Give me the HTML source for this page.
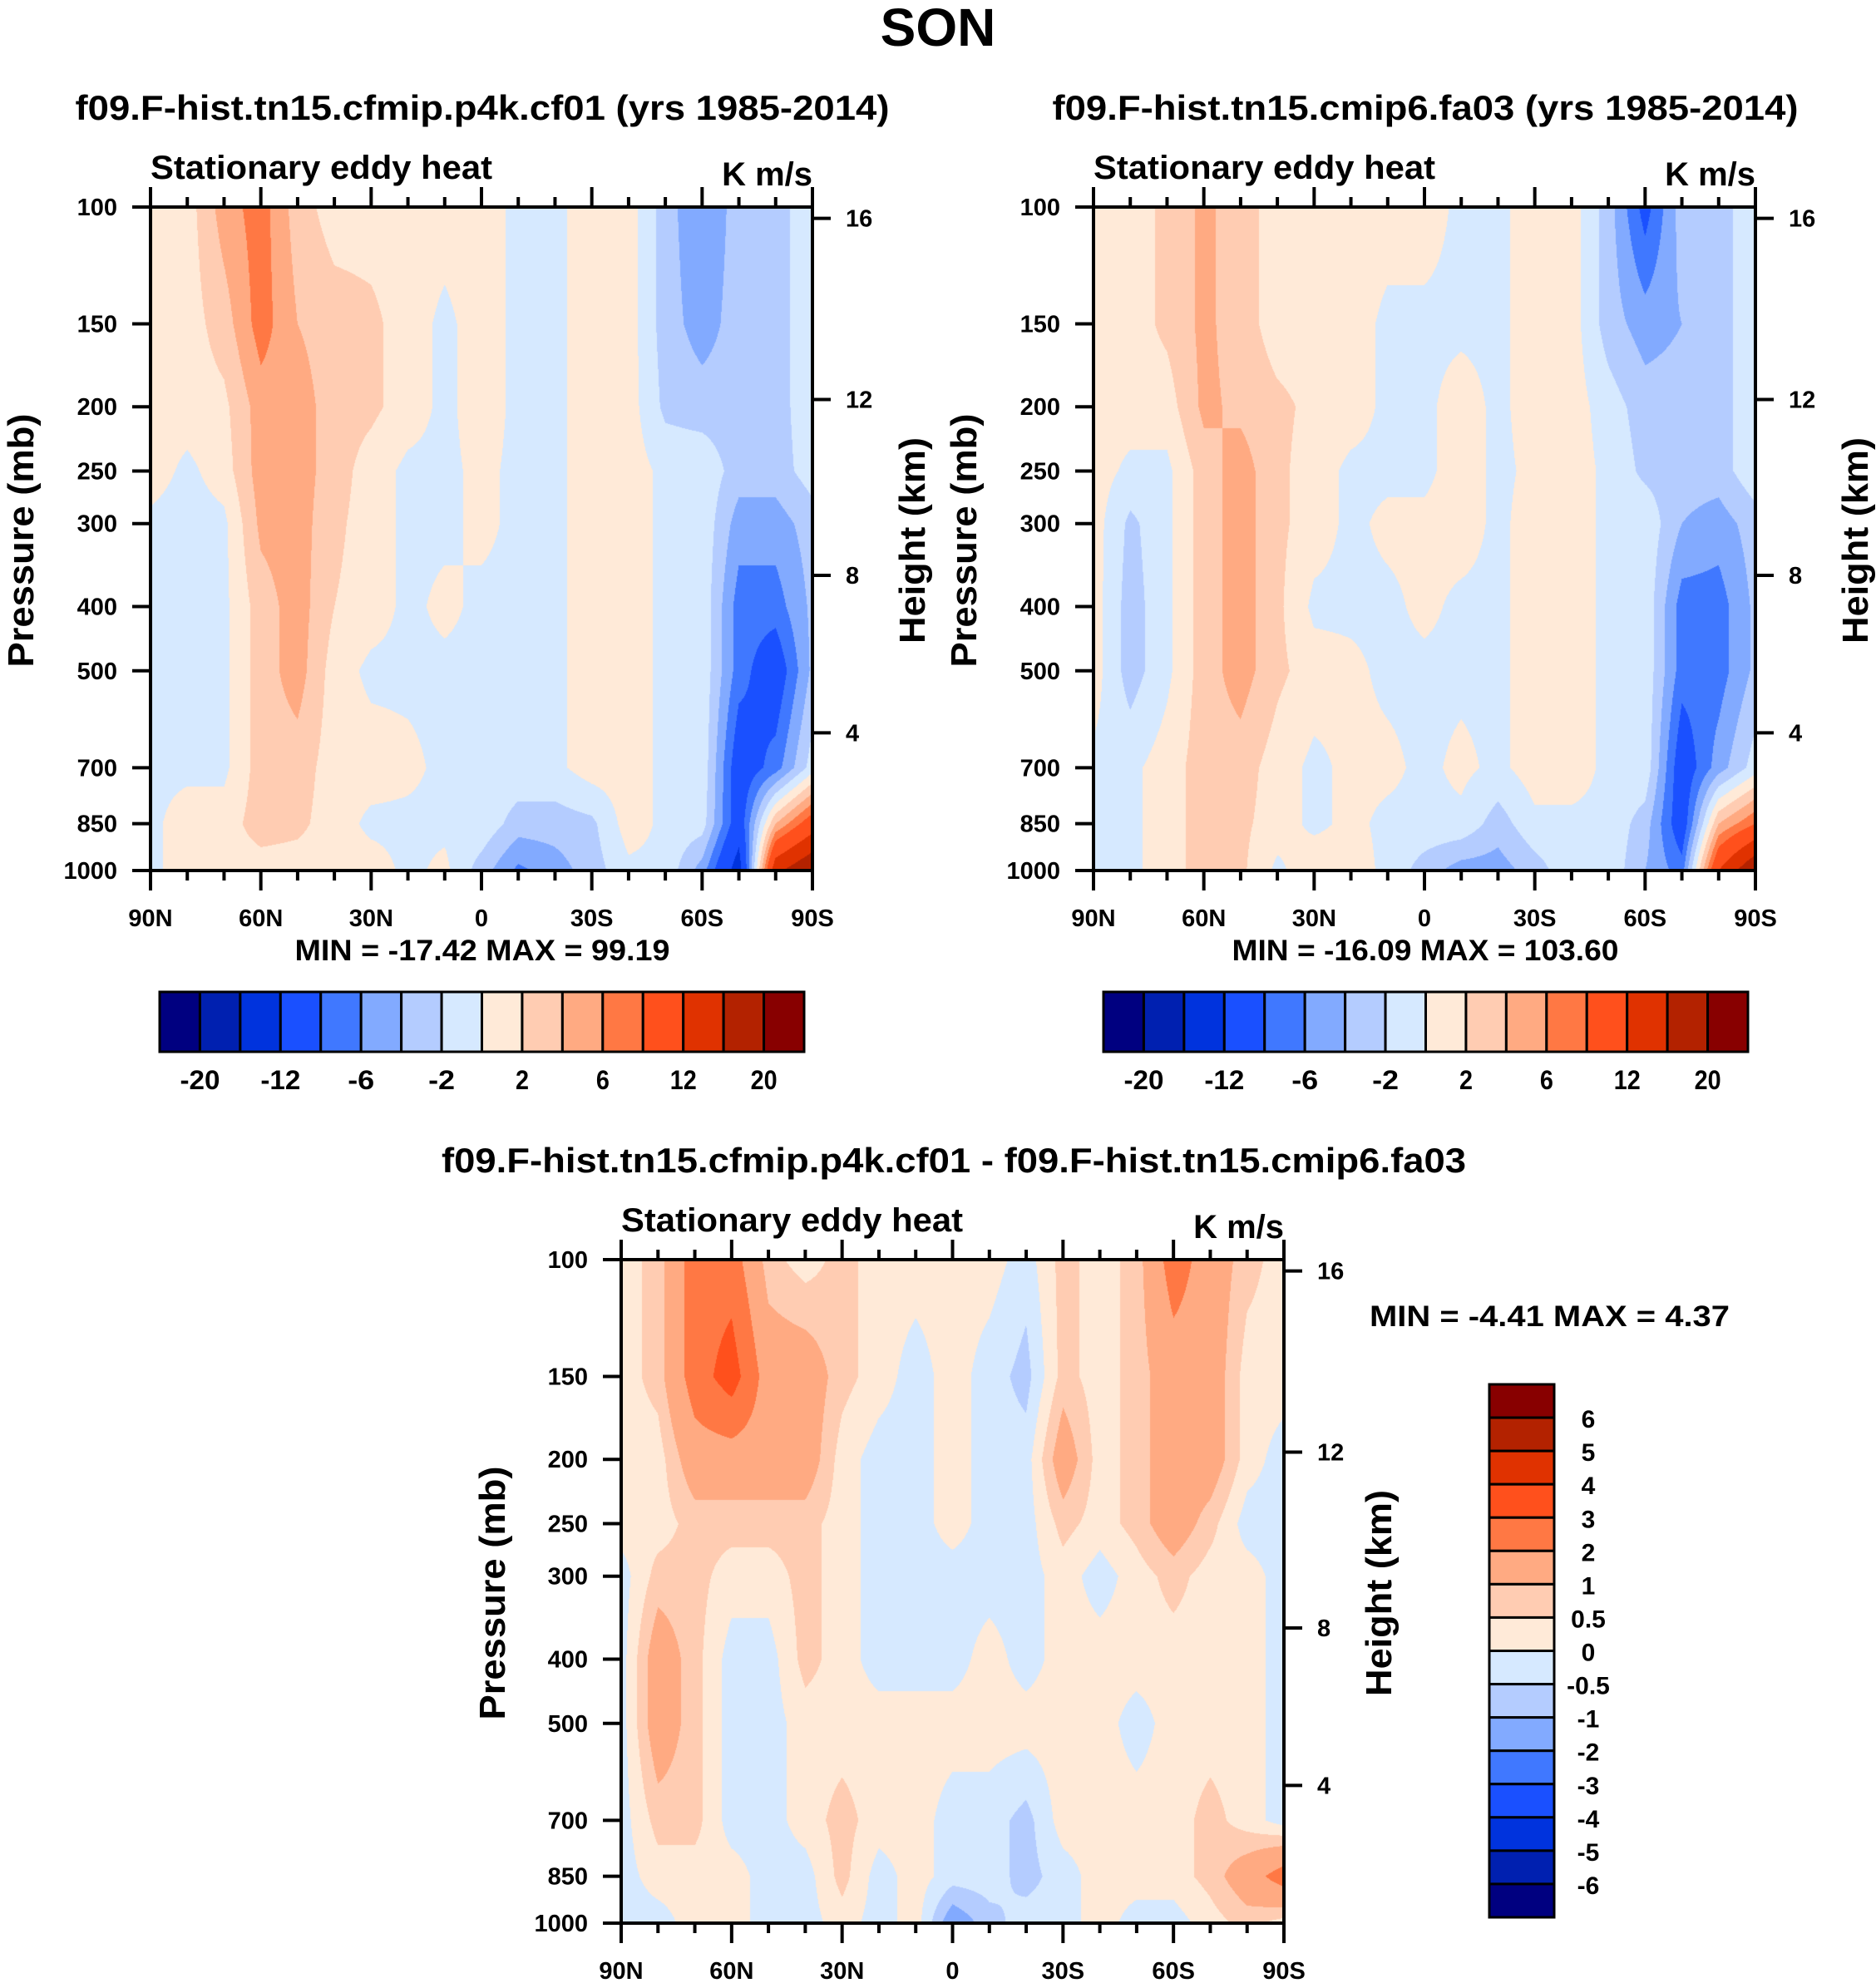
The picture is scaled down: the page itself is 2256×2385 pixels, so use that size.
<!DOCTYPE html>
<html><head><meta charset="utf-8">
<style>
html,body{margin:0;padding:0;background:#fff;}
#root{position:relative;width:2256px;height:2385px;overflow:hidden;background:#fff;}
canvas{position:absolute;}
svg{position:absolute;left:0;top:0;}
text{font-family:"Liberation Sans",sans-serif;font-weight:bold;fill:#000;}
</style></head>
<body>
<div id="root">
<canvas id="c1" width="796" height="798" style="left:181px;top:249px"></canvas>
<canvas id="c2" width="796" height="798" style="left:1315px;top:249px"></canvas>
<canvas id="c3" width="797" height="798" style="left:747px;top:1515px"></canvas>
<svg id="ov" width="2256" height="2385">
<text x="1128" y="55" text-anchor="middle" font-size="64">SON</text>
</svg>
</div>
<script>
// ---- data ----
const lats = [90,80,70,60,50,40,30,20,10,0,-10,-20,-30,-40,-50,-60,-70,-80,-90];
const plevs = [100,150,200,250,300,400,500,700,850,1000];
const xTickLabels = ['90N','60N','30N','0','30S','60S','90S'];
const pTickLabels = [100,150,200,250,300,400,500,700,850,1000];
const zTickLabels = [16,12,8,4];
const zTickPressure = [104,195,359,620];
const levelsAbs = [-20,-16,-12,-8,-6,-4,-2,0,2,4,6,8,12,16,20];
const barLabelsAbs = ['-20','-12','-6','-2','2','6','12','20'];
const levelsDiff = [-6,-5,-4,-3,-2,-1,-0.5,0,0.5,1,2,3,4,5,6];
const barLabelsDiff = ['6','5','4','3','2','1','0.5','0','-0.5','-1','-2','-3','-4','-5','-6'];
const colors = ['#000080','#0020B0','#0033DD','#1A50FF','#4078FF','#82AAFF','#B4CCFF','#D6E9FF','#FFEAD8','#FFCCB2','#FFAA82','#FF7844','#FF501C','#E03200','#B32200','#880000'];
// rows = latitude (90N..90S), cols = pressure levels (100..1000)
const fieldCf01 = [
 [1,1,1,1,-0.5,-0.5,-0.5,-0.5,-0.5,-0.5],
 [1,1,1,-0.5,-1,-1,-1,-0.5,1,1],
 [5,3,1.5,1,-0.5,-0.5,-0.5,-0.5,1,1],
 [7,7,5,5,4.5,3,3,3,3,1],
 [3,4,5,5,5,5,5,3,2.5,1],
 [1,3,3,3,2.5,2,1,1,1,1],
 [1,2.5,2.5,1,1,1,-0.5,1,-0.5,1],
 [1,1,1,-0.5,-0.5,-0.5,-0.5,0.5,-0.5,-0.5],
 [1,-0.5,-0.5,-0.5,-0.5,0.5,-0.5,-0.5,-0.5,0.5],
 [1,1,1,0.5,0.5,-0.5,-0.5,-0.5,-0.5,-3],
 [-0.5,-0.5,-0.5,-0.5,-0.5,-0.5,-0.5,-0.5,-3,-6.5],
 [-0.5,-0.5,-0.5,-0.5,-0.5,-0.5,-0.5,-0.5,-3,-5],
 [1,1,1,1,1,1,1,1,-2.5,-3],
 [1,1,1,1,1,1,1,1,1,-0.5],
 [-3,-3,-2.5,-0.5,-0.5,-0.5,-0.5,-0.5,-0.5,-0.5],
 [-6,-5,-3,-0.5,-0.5,-0.5,-0.5,-0.5,-1,-5],
 [-3,-3,-3,-3,-5,-7,-7,-10,-10,-14],
 [-3,-3,-3,-3,-5,-7,-10,-7,4,15],
 [-0.5,-0.5,-0.5,-1,-3,-3.5,-3.5,-1,10,20]
];
const fieldFa03 = [
 [1,1,1,1,1,1,1,-0.5,-0.5,-0.5],
 [1,1,1,-0.5,-2.5,-3,-3,-0.5,-0.5,-0.5],
 [2.5,2.5,1,-0.5,-0.5,-0.5,-0.5,1,1,1],
 [4.5,4.5,4.5,3,3,3,3,3,3,3],
 [3,3,3.5,5,5,5,5,3,2.5,2.5],
 [1,1,2.5,2.5,2.5,2.5,2.5,1,1,-0.5],
 [1,1,1.5,1,1,-0.5,1,-0.5,-0.5,1.5],
 [1,1,1,-0.5,-0.5,-0.5,0.5,0.5,0.5,1],
 [1,-0.5,-0.5,-0.5,0.5,-0.5,-0.5,0.5,-0.5,-0.5],
 [1,-0.5,-0.5,-0.5,0.5,0.5,-0.5,-0.5,-0.5,-3],
 [-0.5,-0.5,1,1,1,-0.5,-0.5,0.5,-0.5,-5],
 [-0.5,-0.5,-0.5,-0.5,-0.5,-0.5,-0.5,-0.5,-3,-5],
 [1,1,1,0.5,1,1,1,1,-0.5,-3],
 [1,1,1,1,1,1,1,1,-0.5,-0.5],
 [-3,-3,-1,-0.5,-0.5,-0.5,-0.5,-0.5,-0.5,-0.5],
 [-9,-5,-3,-2.5,-0.5,-0.5,-0.5,-0.5,-3,-4],
 [-3,-4,-3,-3,-4,-7,-7,-10,-10,-7],
 [-3,-3,-3,-3,-5,-7,-7,-5,4,12],
 [-0.5,-0.5,-0.5,-0.5,-3,-3.5,-3.5,-1,8,20]
];
const fieldDiff = [
 [0.25,0.25,0.25,0.25,-0.25,-0.25,-0.25,-0.25,-0.25,-0.25],
 [0.7,0.7,0.25,0.25,0.7,1.5,1.5,0.7,0.25,-0.25],
 [2.5,2.5,1.5,0.7,0.7,0.7,0.7,0.7,0.25,0.25],
 [2.5,3.5,1.5,0.7,0.25,-0.25,-0.25,-0.25,0.25,0.25],
 [0.7,1.5,1.5,0.7,0.25,-0.25,-0.25,-0.25,-0.25,-0.25],
 [0.25,1.5,1.5,0.7,0.7,0.7,0.25,0.25,-0.25,-0.25],
 [0.7,0.7,0.25,0.25,0.25,0.25,0.25,0.7,0.7,0.25],
 [0.25,0.25,-0.25,-0.25,-0.25,-0.25,0.25,0.25,-0.25,-0.25],
 [0.25,-0.25,-0.25,-0.25,-0.25,-0.25,0.25,0.25,0.25,0.25],
 [0.25,0.25,0.25,0.25,-0.25,-0.25,0.25,-0.25,-0.25,-1.5],
 [0.25,-0.25,-0.25,-0.25,-0.25,0.25,0.25,-0.25,-0.25,-0.7],
 [-0.25,-0.7,-0.25,-0.25,-0.25,-0.25,0.25,-0.7,-0.7,-0.25],
 [0.7,0.7,1.5,0.7,0.25,0.25,0.25,0.25,-0.25,-0.25],
 [0.25,0.25,0.25,0.25,-0.25,0.25,0.25,0.25,0.25,0.25],
 [0.7,0.7,0.7,0.7,0.25,0.25,-0.25,0.25,0.25,-0.25],
 [2.5,1.5,1.5,1.5,0.7,0.25,0.25,0.25,0.25,-0.25],
 [1.5,1.5,1.5,0.7,0.25,0.25,0.25,0.7,0.7,0.25],
 [0.7,0.25,0.25,-0.25,0.25,0.25,0.25,0.25,1.5,0.7],
 [0.25,0.25,-0.25,-0.25,-0.25,-0.25,-0.25,-0.25,2.5,0.25]
];

// ---- helpers ----
const NS='http://www.w3.org/2000/svg';
const ov=document.getElementById('ov');
function mk(tag,attrs,txt){const e=document.createElementNS(NS,tag);for(const k in attrs)e.setAttribute(k,attrs[k]);if(txt!==undefined)e.textContent=txt;ov.appendChild(e);return e;}
function hexRGB(h){return [parseInt(h.substr(1,2),16),parseInt(h.substr(3,2),16),parseInt(h.substr(5,2),16)];}
const lnP0=Math.log(100), lnP1=Math.log(1000);
function yOf(p,top,H){return top+(Math.log(p)-lnP0)/(lnP1-lnP0)*H;}
function xOf(lat,left,W){return left+(90-lat)/180*W;}

function drawField(id,field,levels){
  const cv=document.getElementById(id),ctx=cv.getContext('2d');
  const W=cv.width,H=cv.height,img=ctx.createImageData(W,H);
  const lnL=plevs.map(p=>Math.log(p));
  const rgb=colors.map(hexRGB);
  for(let py=0;py<H;py++){
    const lp=lnP0+(py+0.5)/H*(lnP1-lnP0);
    let j=0;while(j<plevs.length-2&&lp>lnL[j+1])j++;
    const ty=Math.min(1,Math.max(0,(lp-lnL[j])/(lnL[j+1]-lnL[j])));
    for(let px=0;px<W;px++){
      const lat=90-(px+0.5)/W*180;
      let i=0;while(i<lats.length-2&&lat<lats[i+1])i++;
      const tx=Math.min(1,Math.max(0,(lats[i]-lat)/(lats[i]-lats[i+1])));
      const v=(field[i][j]*(1-tx)+field[i+1][j]*tx)*(1-ty)+(field[i][j+1]*(1-tx)+field[i+1][j+1]*tx)*ty;
      let k=0;while(k<levels.length&&v>=levels[k])k++;
      const c=rgb[k],o=(py*W+px)*4;
      img.data[o]=c[0];img.data[o+1]=c[1];img.data[o+2]=c[2];img.data[o+3]=255;
    }
  }
  ctx.putImageData(img,0,0);
}

function drawAxes(left,top,W,H,opt){
  const right=left+W,bottom=top+H;
  const fr=mk('rect',{x:left,y:top,width:W,height:H,fill:'none',stroke:'#000','stroke-width':4});
  
  
  for(let lat=90;lat>=-90;lat-=10){
    const x=xOf(lat,left,W),major=(lat%30===0);
    const tb=mk('line',{x1:x,x2:x,y1:bottom,y2:bottom+(major?24:12),stroke:'#000','stroke-width':4});
    
    
    const tt=mk('line',{x1:x,x2:x,y1:top,y2:top-(major?24:12),stroke:'#000','stroke-width':4});
    
    
  }
  xTickLabels.forEach((s,i)=>{
    const t=mk('text',{x:xOf(90-30*i,left,W),y:bottom+67,'text-anchor':'middle','font-size':29},s);
    
    
  });
  pTickLabels.forEach(p=>{
    const y=yOf(p,top,H);
    const l=mk('line',{x1:left-22,x2:left,y1:y,y2:y,stroke:'#000','stroke-width':4});
    
    
    const t=mk('text',{x:left-40,y:y+10,'text-anchor':'end','font-size':29},String(p));
    
    
  });
  zTickLabels.forEach((z,i)=>{
    const y=yOf(zTickPressure[i],top,H);
    const l=mk('line',{x1:right,x2:right+22,y1:y,y2:y,stroke:'#000','stroke-width':4});
    
    
    const t=mk('text',{x:right+40,y:y+10,'font-size':29},String(z));
    
    
  });
  const cy=top+H/2+2;
  const pt=mk('text',{x:0,y:0,'text-anchor':'middle','font-size':44,textLength:305,lengthAdjust:'spacingAndGlyphs',transform:`translate(${left-opt.pOff},${cy}) rotate(-90)`},'Pressure (mb)');
  
  
  const ht=mk('text',{x:0,y:0,'text-anchor':'middle','font-size':44,textLength:248,lengthAdjust:'spacingAndGlyphs',transform:`translate(${right+opt.hOff},${cy}) rotate(-90)`},'Height (km)');
  
  
  const st=mk('text',{x:left,y:top-34,'font-size':40,textLength:411,lengthAdjust:'spacingAndGlyphs'},'Stationary eddy heat');
  
  
  const un=mk('text',{x:right,y:top-26,'text-anchor':'end','font-size':40},'K m/s');
  
  
}

function hBar(left,top,W,H,labels){
  const n=colors.length,bw=W/n;
  colors.forEach((c,i)=>{
    const r=mk('rect',{x:left+i*bw,y:top,width:bw,height:H,fill:c,stroke:'#000','stroke-width':3});
    
    
  });
  labels.forEach((s,i)=>{
    const t=mk('text',{x:left+(2*i+1)*bw,y:top+H+45,'text-anchor':'middle','font-size':32,textLength:s.length*16,lengthAdjust:'spacingAndGlyphs'},s);
    
    
  });
}

// ---- draw ----
drawField('c1',fieldCf01,levelsAbs);
drawField('c2',fieldFa03,levelsAbs);
drawField('c3',fieldDiff,levelsDiff);

drawAxes(181,249,796,798,{pOff:141,hOff:135});
drawAxes(1315,249,796,798,{pOff:141,hOff:135});
drawAxes(747,1515,797,798,{pOff:140,hOff:129});

let t;
t=mk('text',{x:580,y:144,'text-anchor':'middle','font-size':42,textLength:979,lengthAdjust:'spacingAndGlyphs'},'f09.F-hist.tn15.cfmip.p4k.cf01 (yrs 1985-2014)');


t=mk('text',{x:1714,y:144,'text-anchor':'middle','font-size':42,textLength:897,lengthAdjust:'spacingAndGlyphs'},'f09.F-hist.tn15.cmip6.fa03 (yrs 1985-2014)');


t=mk('text',{x:1147,y:1410,'text-anchor':'middle','font-size':42,textLength:1232,lengthAdjust:'spacingAndGlyphs'},'f09.F-hist.tn15.cfmip.p4k.cf01 - f09.F-hist.tn15.cmip6.fa03');



t=mk('text',{x:580,y:1155,'text-anchor':'middle','font-size':35,textLength:451,lengthAdjust:'spacingAndGlyphs'},'MIN = -17.42  MAX =  99.19');


t=mk('text',{x:1714,y:1155,'text-anchor':'middle','font-size':35,textLength:465,lengthAdjust:'spacingAndGlyphs'},'MIN = -16.09  MAX = 103.60');


t=mk('text',{x:1647,y:1595,'font-size':35,textLength:433,lengthAdjust:'spacingAndGlyphs'},'MIN =  -4.41  MAX =   4.37');



hBar(192,1193,775,72,barLabelsAbs);
hBar(1327,1193,775,72,barLabelsAbs);

(function(){
  const left=1791,top=1665,W=78,H=641,n=colors.length,bh=H/n;
  colors.slice().reverse().forEach((c,i)=>{
    const r=mk('rect',{x:left,y:top+i*bh,width:W,height:bh,fill:c,stroke:'#000','stroke-width':3});
    
    
  });
  barLabelsDiff.forEach((s,i)=>{
    const tt=mk('text',{x:1910,y:top+(i+1)*bh+12,'text-anchor':'middle','font-size':30},s);
    
    
  });
})();
</script>
</body></html>
